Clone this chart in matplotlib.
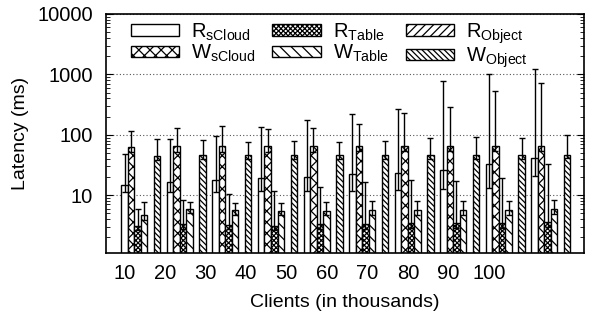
import numpy as np
import matplotlib
matplotlib.use('Agg')
import matplotlib.pyplot as plt
from matplotlib.ticker import LogLocator, NullFormatter

plt.rcParams['font.family'] = ['Liberation Sans', 'DejaVu Sans']
plt.rcParams['mathtext.fontset'] = 'custom'
plt.rcParams['mathtext.rm'] = 'Liberation Sans'
plt.rcParams['hatch.linewidth'] = 0.9

# Clients (in thousands)
clients = ['10', '20', '30', '40', '50', '60', '70', '80', '90', '100']

# Mean latency (ms) and error bar ends, per operation
r_scloud = [14.6, 16.6, 17.7, 18.9, 20.1, 22.0, 22.9, 26.0, 32.7, 40.5]
r_scloud_lo = [11.2, 11.3, 11.3, 11.8, 11.8, 11.8, 12.1, 12.4, 12.9, 21.0]
r_scloud_hi = [48, 84, 95, 136, 175, 218, 263, 776, 1014, 1233]

w_scloud = [63, 65, 65, 65, 65, 65.7, 65.7, 65.7, 66, 66]
w_scloud_lo = [51, 52, 52, 52, 52, 53, 53, 53, 53, 53]
w_scloud_hi = [116, 127, 139, 123, 130, 150, 226, 284, 538, 708]

r_table = [3.06, 3.3, 3.2, 3.06, 3.3, 3.3, 3.4, 3.4, 3.4, 3.56]
r_table_lo = [2.6, 2.8, 2.7, 2.6, 2.8, 2.8, 2.9, 2.9, 2.9, 3.0]
r_table_hi = [6.0, 8.3, 10.6, 11.8, 13.7, 16.6, 18.0, 17.0, 18.9, 32.6]

w_table = [4.65, 6.0, 5.65, 5.5, 5.5, 5.65, 5.65, 5.65, 5.65, 5.8]
w_table_lo = [3.9, 5.0, 4.7, 4.6, 4.6, 4.7, 4.7, 4.7, 4.7, 4.8]
w_table_hi = [7.6, 7.7, 7.45, 7.3, 7.6, 7.9, 7.9, 7.9, 7.95, 8.3]

# no R_Object values were reported
r_object = [np.nan] * 10
r_object_lo = [np.nan] * 10
r_object_hi = [np.nan] * 10

w_object = [44.3, 46, 46, 46, 46, 46, 46, 46, 46, 47]
w_object_lo = [38, 39.5, 39.5, 39.5, 39.5, 39.5, 39.5, 39.5, 39.5, 40.5]
w_object_hi = [84, 81, 76, 78, 76, 80, 87, 92, 89, 98]

series = [
    (r'R$_{\rm sCloud}$', r_scloud, r_scloud_lo, r_scloud_hi, ''),
    (r'W$_{\rm sCloud}$', w_scloud, w_scloud_lo, w_scloud_hi, 'xxx'),
    (r'R$_{\rm Table}$', r_table, r_table_lo, r_table_hi, 'xxxxxxx'),
    (r'W$_{\rm Table}$', w_table, w_table_lo, w_table_hi, '\\\\\\'),
    (r'R$_{\rm Object}$', r_object, r_object_lo, r_object_hi, '////'),
    (r'W$_{\rm Object}$', w_object, w_object_lo, w_object_hi, '\\\\\\\\\\\\'),
]

fig = plt.figure(figsize=(5.89, 3.18), dpi=100)
ax = fig.add_axes([0.1795, 0.2044, 0.812, 0.7516])

slots = len(series) + 1  # six bars plus a gap per group
group_x = np.arange(len(clients)) * slots

for j, (label, mean, lo, hi, hatch) in enumerate(series):
    mean = np.array(mean, dtype=float)
    err = [mean - np.array(lo), np.array(hi) - mean]
    x = group_x + j
    ax.bar(x, mean, width=1.0, bottom=1e-3, color='white', edgecolor='black',
           linewidth=1.0, hatch=hatch, label=label, zorder=2)
    ax.errorbar(x, mean, yerr=err, fmt='none', ecolor='black', elinewidth=1.0,
                capsize=2.5, capthick=1.0, zorder=3)

ax.set_yscale('log')
ax.set_ylim(1.1, 10000)
ax.set_xlim(-2.9, 70.6)

ax.yaxis.set_minor_locator(LogLocator(base=10, subs=np.arange(2, 10), numticks=10))
ax.yaxis.set_minor_formatter(NullFormatter())
ax.set_yticks([10, 100, 1000, 10000])
ax.set_yticklabels(['10', '100', '1000', '10000'])
ax.tick_params(axis='y', which='both', direction='in', right=True, labelsize=14.5, pad=9)
ax.tick_params(axis='y', which='major', length=5)
ax.tick_params(axis='y', which='minor', length=3)

# tick labels sit a little tighter than the groups
ax.set_xticks(np.arange(len(clients)) * 6.22)
ax.set_xticklabels(clients)
ax.tick_params(axis='x', length=0, labelsize=14.5, pad=8)

ax.grid(axis='y', which='major', color='#555555', linestyle=(0, (1, 2)), linewidth=0.8, zorder=0)
for s in ax.spines.values():
    s.set_linewidth(1.2)

ax.set_ylabel('Latency (ms)', fontsize=14, labelpad=6)
ax.set_xlabel('Clients (in thousands)', fontsize=14, labelpad=8)

ax.legend(ncol=3, loc='upper left', bbox_to_anchor=(0.052, 0.97), frameon=False,
          fontsize=14.5, handlelength=2.4, handleheight=0.5, handletextpad=0.6,
          columnspacing=0.85, labelspacing=0.0, borderpad=0, borderaxespad=0)

plt.savefig('out.png', dpi=100)
